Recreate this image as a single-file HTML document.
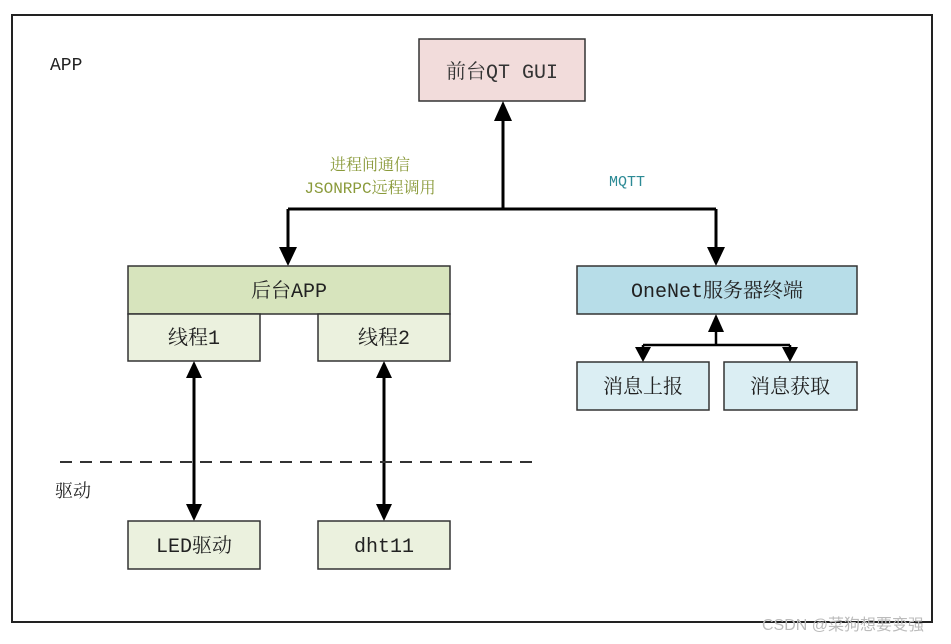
<!DOCTYPE html>
<html><head><meta charset="utf-8"><style>
body{margin:0;background:#fff;}
svg text{font-family:"Liberation Mono","Noto Serif CJK SC",monospace;}
</style></head><body>
<svg width="951" height="639" viewBox="0 0 951 639" xmlns="http://www.w3.org/2000/svg">
<rect x="12" y="15" width="920" height="607" fill="#fff" stroke="#222" stroke-width="2"/>
<text x="50" y="70" font-size="18" fill="#222">APP</text>
<rect x="419" y="39" width="166" height="62" fill="#f2dcdb" stroke="#333" stroke-width="1.5"/>
<text x="502" y="78" font-size="20" text-anchor="middle" fill="#333">前台QT GUI</text>
<text x="370" y="170" font-size="16" text-anchor="middle" fill="#8a9a3a">进程间通信</text>
<text x="370" y="193" font-size="16" text-anchor="middle" fill="#8a9a3a">JSONRPC远程调用</text>
<text x="627" y="186" font-size="15" text-anchor="middle" fill="#2c8a95">MQTT</text>
<g stroke="#000" stroke-width="3" fill="none">
<path d="M503 120 V209 M288 209 H716 M288 209 V250 M716 209 V250"/>
<path d="M716 332 V345 M643 345 H790 M643 345 V350 M790 345 V350" stroke-width="2.5"/>
<path d="M194 378 V504 M384 378 V504"/>
</g>
<g fill="#000">
<polygon points="503,101 494,121 512,121"/>
<polygon points="288,266 279,247 297,247"/>
<polygon points="716,266 707,247 725,247"/>
<polygon points="716,314 708,332 724,332"/>
<polygon points="643,362 635,347 651,347"/>
<polygon points="790,362 782,347 798,347"/>
<polygon points="194,361 186,378 202,378"/><polygon points="194,521 186,504 202,504"/>
<polygon points="384,361 376,378 392,378"/><polygon points="384,521 376,504 392,504"/>
</g>
<rect x="128" y="266" width="322" height="48" fill="#d7e4bd" stroke="#333" stroke-width="1.5"/>
<text x="289" y="297" font-size="20" text-anchor="middle" fill="#222">后台APP</text>
<rect x="128" y="314" width="132" height="47" fill="#ebf1de" stroke="#333" stroke-width="1.5"/>
<text x="194" y="344" font-size="20" text-anchor="middle" fill="#222">线程1</text>
<rect x="318" y="314" width="132" height="47" fill="#ebf1de" stroke="#333" stroke-width="1.5"/>
<text x="384" y="344" font-size="20" text-anchor="middle" fill="#222">线程2</text>
<rect x="577" y="266" width="280" height="48" fill="#b7dde8" stroke="#333" stroke-width="1.5"/>
<text x="717" y="297" font-size="20" text-anchor="middle" fill="#222">OneNet服务器终端</text>
<rect x="577" y="362" width="132" height="48" fill="#dbeef3" stroke="#333" stroke-width="1.5"/>
<text x="643" y="393" font-size="20" text-anchor="middle" fill="#222">消息上报</text>
<rect x="724" y="362" width="133" height="48" fill="#dbeef3" stroke="#333" stroke-width="1.5"/>
<text x="790" y="393" font-size="20" text-anchor="middle" fill="#222">消息获取</text>
<line x1="60" y1="462" x2="535" y2="462" stroke="#333" stroke-width="2" stroke-dasharray="12,8"/>
<text x="55" y="497" font-size="18" fill="#222">驱动</text>
<rect x="128" y="521" width="132" height="48" fill="#ebf1de" stroke="#333" stroke-width="1.5"/>
<text x="194" y="552" font-size="20" text-anchor="middle" fill="#222">LED驱动</text>
<rect x="318" y="521" width="132" height="48" fill="#ebf1de" stroke="#333" stroke-width="1.5"/>
<text x="384" y="552" font-size="20" text-anchor="middle" fill="#222">dht11</text>
<text x="762" y="630" font-size="16" fill="#bbb" style="font-family:'Liberation Sans','Noto Sans CJK SC',sans-serif">CSDN @菜狗想要变强</text>
</svg>
</body></html>
